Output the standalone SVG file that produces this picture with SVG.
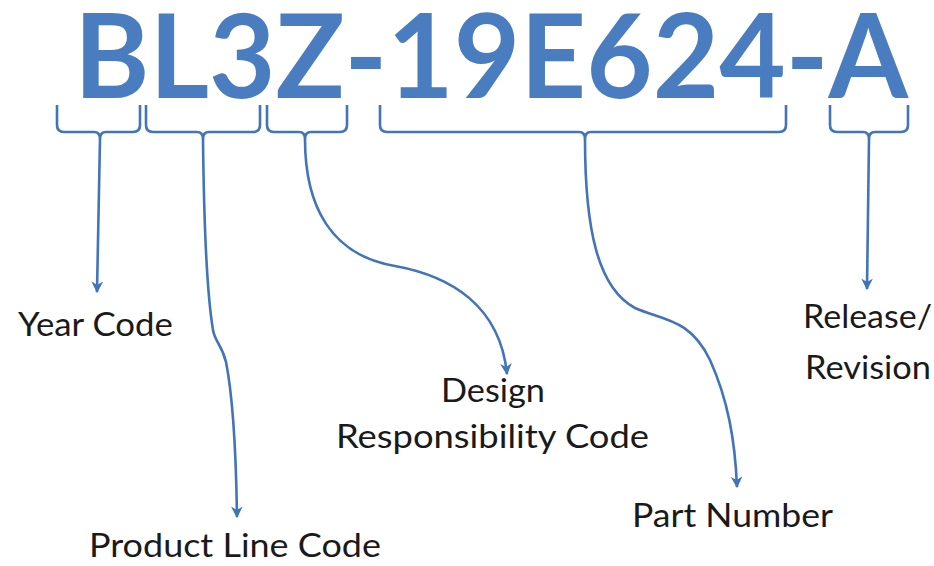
<svg xmlns="http://www.w3.org/2000/svg" width="934" height="566" viewBox="0 0 934 566">
<style>
.title{font-family:Lato,"Liberation Sans",sans-serif;font-weight:bold;font-size:117px;fill:#4a7dc0}
.lbl{font-family:Lato,"Liberation Sans",sans-serif;font-size:32px;fill:#1a1a1a}
.br{fill:none;stroke:#4274b8;stroke-width:2.6;stroke-linejoin:round}
.cn{fill:none;stroke:#4274b8;stroke-width:2.6}
</style>
<defs>
<marker id="ah" viewBox="0 0 10 10" refX="9" refY="5" markerWidth="4.5" markerHeight="4.5" orient="auto" markerUnits="strokeWidth">
<path d="M0,0 L10,5 L0,10 L3,5 z" fill="#4274b8"/>
</marker>
</defs>
<rect width="934" height="566" fill="#ffffff"/>
<g id="title"><text class="title" x="74" y="98" textLength="834" lengthAdjust="spacingAndGlyphs">BL3Z-19E624-A</text></g>
<g id="braces">
<path class="br" d="M57,105 L57,125 Q57,132 64,132 L94,132 Q100,132 100,139 Q100,132 106,132 L133,132 Q140,132 140,125 L140,105"/>
<path class="br" d="M146,105 L146,125 Q146,132 153,132 L197,132 Q203,132 203,139 Q203,132 209,132 L253,132 Q260,132 260,125 L260,105"/>
<path class="br" d="M267,105 L267,125 Q267,132 274,132 L299,132 Q305,132 305,139 Q305,132 311,132 L340,132 Q347,132 347,125 L347,105"/>
<path class="br" d="M380,105 L380,125 Q380,132 387,132 L579,132 Q585,132 585,139 Q585,132 591,132 L779,132 Q786,132 786,125 L786,105"/>
<path class="br" d="M830,105 L830,125 Q830,132 837,132 L863,132 Q869,132 869,139 Q869,132 875,132 L901,132 Q908,132 908,125 L908,105"/>
</g>
<g id="connectors">
<path class="cn" marker-end="url(#ah)" d="M100,139 L97,292"/>
<path class="cn" marker-end="url(#ah)" d="M203,139 C204,230 208,300 213,330 C215,342 222,345 226,362 C232,392 236,450 237,517"/>
<path class="cn" marker-end="url(#ah)" d="M305,139 C305,205 330,255 395,266 C450,276 500,305 507,374"/>
<path class="cn" marker-end="url(#ah)" d="M585,139 C585,230 598,288 635,308 C662,320 690,318 710,360 C728,400 735,440 737,487"/>
<path class="cn" marker-end="url(#ah)" d="M869,139 L867,289"/>
</g>
<g id="year"><text class="lbl" x="18" y="336" textLength="155" lengthAdjust="spacingAndGlyphs">Year Code</text></g>
<g id="product"><text class="lbl" x="89" y="557" textLength="292" lengthAdjust="spacingAndGlyphs">Product Line Code</text></g>
<g id="design"><text class="lbl" x="441" y="402" textLength="104" lengthAdjust="spacingAndGlyphs">Design</text><text class="lbl" x="336" y="448" textLength="313" lengthAdjust="spacingAndGlyphs">Responsibility Code</text></g>
<g id="part"><text class="lbl" x="632" y="527" textLength="201" lengthAdjust="spacingAndGlyphs">Part Number</text></g>
<g id="release"><text class="lbl" x="803" y="328" textLength="129" lengthAdjust="spacingAndGlyphs">Release/</text><text class="lbl" x="805" y="379" textLength="126" lengthAdjust="spacingAndGlyphs">Revision</text></g>
</svg>
